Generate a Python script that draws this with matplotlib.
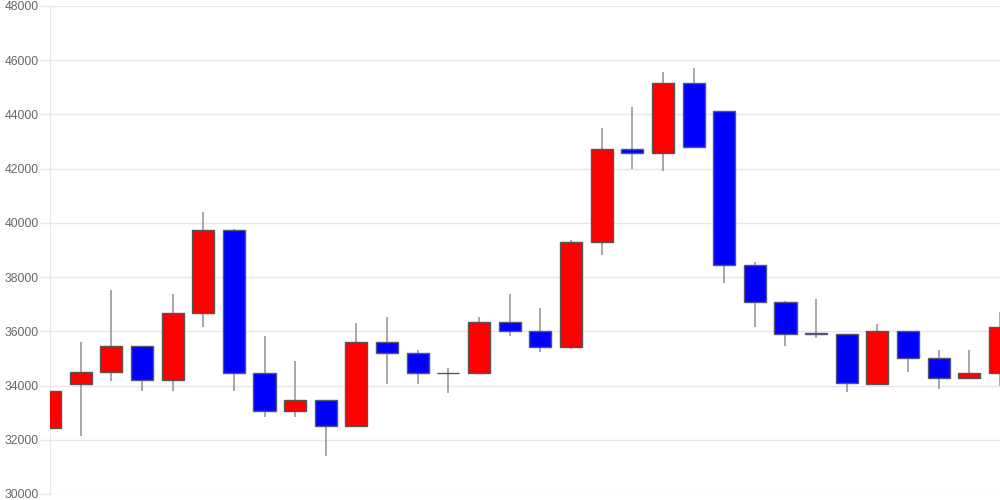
import numpy as np
import matplotlib.pyplot as plt

plt.rcParams['font.family'] = ['Liberation Sans', 'DejaVu Sans']

opens = [32450, 34050, 34500, 35460, 34200, 36680, 39740, 34450, 33060, 33460,
         32510, 35610, 35210, 34480, 34450, 36360, 36000, 35410, 39310, 42720,
         42560, 45150, 44110, 38460, 37100, 35930, 35920, 34050, 36020, 35010,
         34270, 34450]
closes = [33800, 34500, 35460, 34200, 36680, 39740, 34450, 33060, 33460, 32510,
          35610, 35210, 34450, 34480, 36360, 36000, 35410, 39310, 42720, 42570,
          45150, 42800, 38460, 37100, 35900, 35900, 34110, 36020, 35010, 34270,
          34450, 36150]
highs = [35350, 35600, 37530, 35460, 37380, 40400, 39760, 35830, 34910, 33460,
         36300, 36520, 35310, 34650, 36520, 37380, 36860, 39370, 43500, 44270,
         45560, 45710, 44110, 38550, 37120, 37210, 35920, 36270, 36020, 35310,
         35310, 36700]
lows = [31660, 32150, 34150, 33810, 33810, 36170, 33810, 32850, 32850, 31420,
        32510, 34060, 34060, 33720, 34450, 35820, 35250, 35340, 38820, 41980,
        41920, 42800, 37770, 36150, 35460, 35770, 33750, 34050, 34510, 33860,
        34270, 33990]

fig = plt.figure(figsize=(10, 5), dpi=100)
ax = fig.add_axes([0.05, 0.012, 0.95, 0.976])

x = np.arange(len(opens))
o = np.array(opens)
c = np.array(closes)
up = c >= o

ax.vlines(x, lows, highs, color='#999999', linewidth=1.2, zorder=2)
bottom = np.minimum(o, c)
height = np.abs(c - o)
ax.bar(x[up], height[up], bottom=bottom[up], width=0.72, color='#ff0000',
       edgecolor='#555555', linewidth=1, zorder=3)
ax.bar(x[~up], height[~up], bottom=bottom[~up], width=0.72, color='#0000ff',
       edgecolor='#555577', linewidth=1, zorder=3)

ax.set_xlim(0, len(opens) - 1)
ax.set_ylim(30000, 48000)
ax.set_yticks(np.arange(30000, 48001, 2000))
ax.grid(axis='y', color='#e6e6e6', linewidth=1)
ax.set_axisbelow(True)
ax.set_xticks([])
for s in ['top', 'right', 'bottom']:
    ax.spines[s].set_visible(False)
ax.spines['left'].set_color('#e6e6e6')
ax.tick_params(axis='y', length=7.5, width=1, color='#e6e6e6', pad=0.5,
               labelsize=8.7, labelcolor='#666666')

fig.savefig('out.png', dpi=100)
